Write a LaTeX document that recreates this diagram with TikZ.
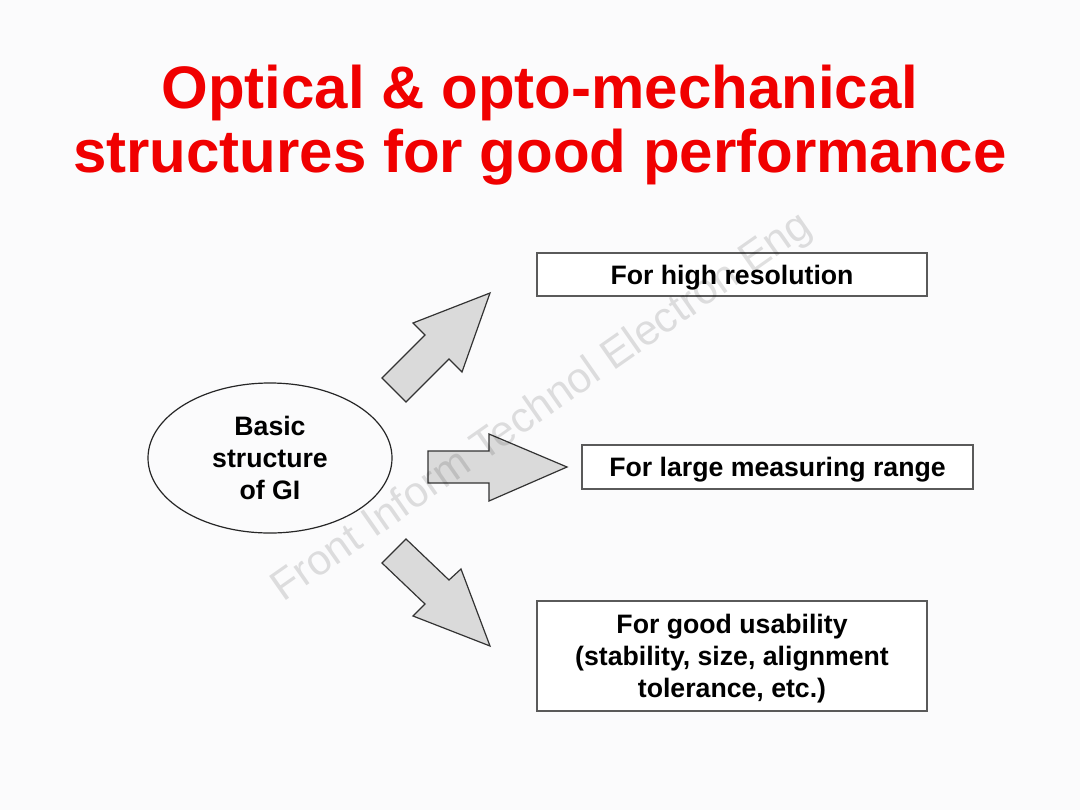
\documentclass[tikz,border=0pt]{standalone}
\usepackage{fontspec}
\setmainfont{Liberation Sans}
\usetikzlibrary{shapes.geometric}
\definecolor{titlered}{RGB}{240,0,0}
\definecolor{bg}{RGB}{251,251,252}
\definecolor{arrowfill}{RGB}{218,218,218}
\definecolor{edge}{RGB}{90,90,90}
\tikzset{
  txt/.style={font=\fontsize{20}{24}\selectfont\bfseries, align=center, text=black},
  goalbox/.style={draw=edge, line width=1.1pt, fill=white, inner sep=0pt},
  oneline/.style={text height=14.3pt, text depth=0pt},
  blockarrow/.style={draw=black!80, line width=0.9pt, fill=arrowfill, line join=miter},
}
\begin{document}
\begin{tikzpicture}[x=0.75pt, y=-0.75pt]
\fill[bg] (0,0) rectangle (1080,810);
\useasboundingbox (0,0) rectangle (1080,810);
% title (base anchor = last line's baseline)
\node[anchor=base, text=titlered, font=\fontsize{45}{48}\selectfont\bfseries, align=center] (title) at (540,172) {Optical \& opto-mechanical\\structures for good performance};
% ellipse
\node[ellipse, draw=black!85, line width=0.9pt, minimum width=244*0.75pt, minimum height=150*0.75pt, txt] (gi) at (270,458) {Basic\\structure\\of GI};
% boxes
\node[goalbox, txt, oneline, minimum width=390*0.75pt, minimum height=43*0.75pt] (hr) at (732,274.5) {For high resolution};
\node[goalbox, txt, oneline, minimum width=391*0.75pt, minimum height=44*0.75pt] (lm) at (777.5,467) {For large measuring range};
\node[goalbox, txt, text depth=0pt, minimum width=390*0.75pt, minimum height=110*0.75pt] (gu) at (732,656) {For good usability\\(stability, size, alignment\\tolerance, etc.)};
% block arrows
\draw[blockarrow] (382,378) -- (425,335) -- (413,323) -- (490,293) -- (462,372) -- (449,359) -- (406,402) -- cycle;
\draw[blockarrow] (428,451) -- (489,451) -- (489,434) -- (567,467) -- (489,501) -- (489,483) -- (428,483) -- cycle;
\draw[blockarrow] (382,563) -- (425,604) -- (413,616) -- (490,646) -- (461,569) -- (449,580) -- (406,539) -- cycle;
% watermark (on top)
\node[rotate=35, text=black, text opacity=0.12, font=\fontsize{32}{32}\selectfont] (wm) at (542,408) {Front Inform Technol Electron Eng};
\end{tikzpicture}
\end{document}
